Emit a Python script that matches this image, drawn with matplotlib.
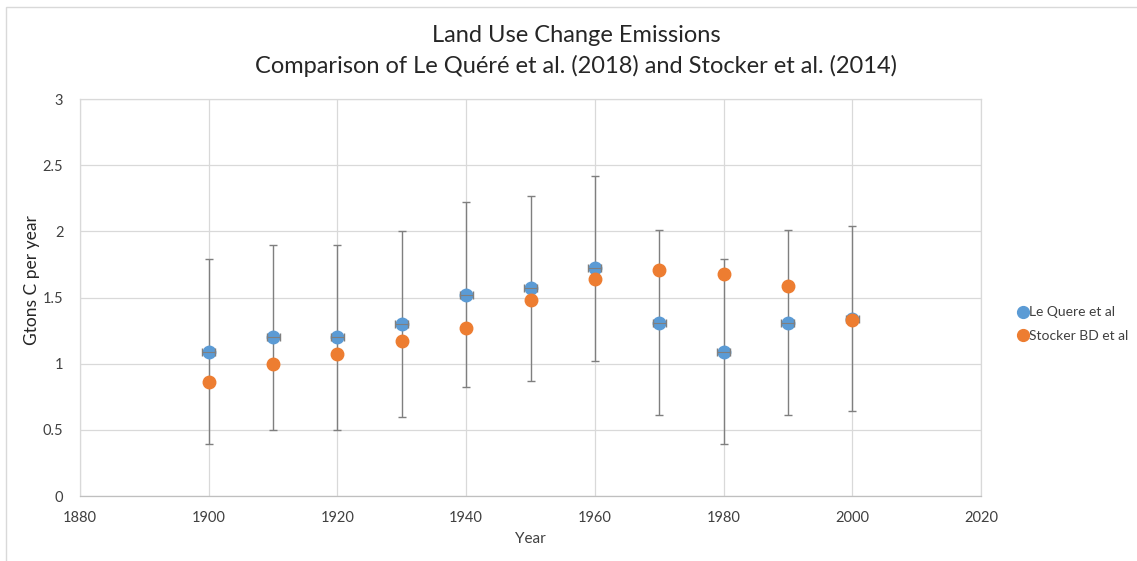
import matplotlib
matplotlib.use("Agg")
import matplotlib.pyplot as plt
from matplotlib.patches import Rectangle
from matplotlib.lines import Line2D

years = [1900, 1910, 1920, 1930, 1940, 1950, 1960, 1970, 1980, 1990, 2000]
le_quere = [1.09, 1.20, 1.20, 1.30, 1.52, 1.57, 1.72, 1.31, 1.09, 1.31, 1.34]
stocker = [0.86, 1.00, 1.07, 1.17, 1.27, 1.48, 1.64, 1.71, 1.68, 1.59, 1.33]
y_err = 0.7
x_err = 1.0
x_ticks = [1880, 1900, 1920, 1940, 1960, 1980, 2000, 2020]
y_ticks = [0, 0.5, 1, 1.5, 2, 2.5, 3]
y_tick_labels = ["0", "0.5", "1", "1.5", "2", "2.5", "3"]

plt.rcParams['font.family'] = ['Lato', 'DejaVu Sans']

W, H = 1137, 561
fig = plt.figure(figsize=(W / 100, H / 100), dpi=100)
ax = fig.add_axes([80 / W, 1 - 496 / H, (981 - 80) / W, (496 - 99) / H])

blue = '#5B9BD5'
orange = '#ED7D31'
grid_c = '#D9D9D9'
txt = '#404040'

ax.errorbar(years, le_quere, yerr=y_err, fmt='none',
            ecolor='#7F7F7F', elinewidth=1.0, capsize=3, capthick=1.0, zorder=2)
ax.plot(years, le_quere, 'o', color=blue, markersize=9, zorder=3, label='Le Quere et al')
ax.errorbar(years, le_quere, xerr=x_err, fmt='none',
            ecolor='#7F7F7F', elinewidth=0.8, capsize=3, capthick=1.0, zorder=3.5)
ax.plot(years, stocker, 'o', color=orange, markersize=9, zorder=4, label='Stocker BD et al')

ax.set_xlim(1880, 2020)
ax.set_ylim(0, 3)
ax.set_xticks(x_ticks)
ax.set_xticklabels([str(t) for t in x_ticks])
ax.set_yticks(y_ticks)
ax.set_yticklabels(y_tick_labels)
ax.grid(True, color=grid_c, linewidth=0.9)
ax.set_axisbelow(True)
for s in ax.spines.values():
    s.set_color(grid_c)
    s.set_linewidth(0.9)
ax.spines['bottom'].set_color('#BFBFBF')
ax.tick_params(axis='x', length=0, labelsize=10.5, colors=txt, pad=11)
ax.tick_params(axis='y', length=0, labelsize=10.5, colors=txt, pad=12)

ax.set_xlabel('Year', fontsize=11, color=txt, labelpad=5)
ax.set_ylabel('Gtons C per year', fontsize=12.5, color='#262626')
ax.yaxis.set_label_coords((32 - 80) / (981 - 80), (496 - 280) / (496 - 99))
ax.yaxis.label.set_va('center')

fig.text(576 / W, 1 - 35 / H, 'Land Use Change Emissions', ha='center', va='center',
         fontsize=17, color='#262626')
fig.text(576 / W, 1 - 66 / H, 'Comparison of Le Quéré et al. (2018) and Stocker et al. (2014)',
         ha='center', va='center', fontsize=17, color='#262626')

handles = [Line2D([], [], marker='o', linestyle='none', color=blue, markersize=8.5),
           Line2D([], [], marker='o', linestyle='none', color=orange, markersize=8.5)]
fig.legend(handles, ['Le Quere et al', 'Stocker BD et al'],
           loc='center left', bbox_to_anchor=(1015 / W, 1 - 324 / H),
           frameon=False, fontsize=10, handletextpad=-0.2, labelspacing=0.8,
           handlelength=1.2, labelcolor=txt, borderaxespad=0, borderpad=0)

fig.patches.append(Rectangle((6 / W, -0.1), 2, 1 - 7 / H + 0.1, transform=fig.transFigure,
                             fill=False, edgecolor='#D9D9D9', linewidth=1.0))

fig.savefig('out.png', dpi=100, facecolor='white')
